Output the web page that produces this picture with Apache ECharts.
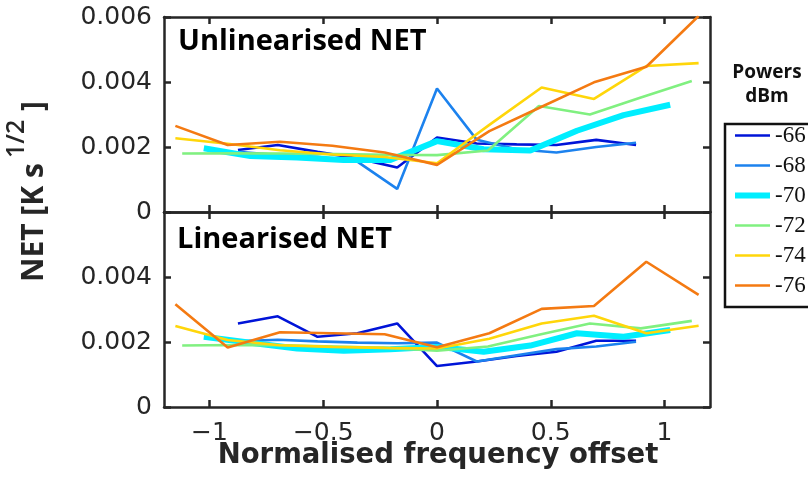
<!DOCTYPE html>
<html>
<head>
<meta charset="utf-8">
<script src="https://cdn.jsdelivr.net/npm/echarts@6/dist/echarts.min.js"></script>
<style>html,body{margin:0;padding:0;background:#fff}#c{width:808px;height:479px}</style>
</head>
<body>
<div id="c"></div>
<script>
// ---- data ----
const powers = ['-66', '-68', '-70', '-72', '-74', '-76'];
const colors = ['#0014d8', '#1c82ee', '#00eeff', '#80f080', '#ffd60a', '#f47a12'];
const widths = [2.6, 2.6, 6, 2.6, 2.6, 2.6];

const x66 = [-0.875, -0.7, -0.525, -0.35, -0.175, 0, 0.175, 0.35, 0.525, 0.7, 0.875];
const x68 = [-0.875, -0.7, -0.525, -0.35, -0.175, 0, 0.175, 0.35, 0.525, 0.7, 0.875];
const x70 = [-1.025, -0.82, -0.615, -0.41, -0.205, 0, 0.205, 0.41, 0.615, 0.82, 1.025];
const x72 = [-1.12, -0.896, -0.672, -0.448, -0.224, 0, 0.224, 0.448, 0.672, 0.896, 1.12];
const x74 = [-1.15, -0.92, -0.69, -0.46, -0.23, 0, 0.23, 0.46, 0.69, 0.92, 1.15];
const x76 = [-1.15, -0.92, -0.69, -0.46, -0.23, 0, 0.23, 0.46, 0.69, 0.92, 1.15];

// Unlinearised NET (top panel)
const un66 = [0.00191, 0.00206, 0.00185, 0.00165, 0.00137, 0.00229, 0.00211, 0.00208, 0.00206, 0.00222, 0.00206];
const un68 = [0.00185, 0.00175, 0.00170, 0.00155, 0.00071, 0.00380, 0.00222, 0.00193, 0.00183, 0.00200, 0.00213];
const un70 = [0.00196, 0.00172, 0.00168, 0.00160, 0.00160, 0.00218, 0.00193, 0.00189, 0.00250, 0.00298, 0.00330];
const un72 = [0.00180, 0.00181, 0.00180, 0.00178, 0.00176, 0.00175, 0.00189, 0.00326, 0.00300, 0.00352, 0.00403];
const un74 = [0.00227, 0.00210, 0.00190, 0.00177, 0.00169, 0.00150, 0.00268, 0.00383, 0.00348, 0.00449, 0.00458];
const un76 = [0.00265, 0.00206, 0.00216, 0.00204, 0.00183, 0.00145, 0.00249, 0.00324, 0.00399, 0.00447, 0.00603];

// Linearised NET (bottom panel)
const li66 = [0.00257, 0.00279, 0.00216, 0.00227, 0.00257, 0.00126, 0.00140, 0.00157, 0.00170, 0.00204, 0.00204];
const li68 = [0.00202, 0.00207, 0.00202, 0.00198, 0.00196, 0.00198, 0.00140, 0.00159, 0.00178, 0.00186, 0.00201];
const li70 = [0.00216, 0.00198, 0.00180, 0.00173, 0.00178, 0.00185, 0.00170, 0.00189, 0.00227, 0.00216, 0.00237];
const li72 = [0.00189, 0.00191, 0.00190, 0.00186, 0.00182, 0.00173, 0.00186, 0.00222, 0.00257, 0.00242, 0.00265];
const li74 = [0.00249, 0.00206, 0.00190, 0.00185, 0.00182, 0.00180, 0.00210, 0.00257, 0.00281, 0.00227, 0.00250];
const li76 = [0.00316, 0.00183, 0.00230, 0.00227, 0.00224, 0.00184, 0.00227, 0.00302, 0.00311, 0.00447, 0.00345];

const xTicks = [-1, -0.5, 0, 0.5, 1];
const yTicksTop = [0, 0.002, 0.004, 0.006];
const yTicksBottom = [0, 0.002, 0.004];

// ---- build ----
const xs = [x66, x68, x70, x72, x74, x76];
const tops = [un66, un68, un70, un72, un74, un76];
const bots = [li66, li68, li70, li72, li74, li76];
const zip = (a, b) => a.map((v, i) => [v, b[i]]);

const frame = '#262626';
const fontSans = '"Open Sans", "DejaVu Sans", sans-serif';
const fontTick = '"DejaVu Sans", sans-serif';

function xAx(grid, pos, labels) {
  return {
    type: 'value', gridIndex: grid, position: pos, min: -1.2, max: 1.2,
    axisLine: { show: true, onZero: false, lineStyle: { color: frame, width: 2.5 } },
    axisTick: { show: true, inside: true, length: 7, customValues: xTicks, lineStyle: { color: frame, width: 2.5 } },
    axisLabel: labels ? {
      show: true, customValues: xTicks, margin: 14, fontSize: 25, fontFamily: fontTick, color: frame,
      formatter: v => (v < 0 ? '\u2212' + Math.abs(v) : String(v))
    } : { show: false },
    splitLine: { show: false }
  };
}
function yAx(grid, pos, labelTicks) {
  return {
    type: 'value', gridIndex: grid, position: pos, min: 0, max: 0.006, interval: 0.002,
    axisLine: { show: true, onZero: false, lineStyle: { color: frame, width: 2.5 } },
    axisTick: { show: true, inside: true, length: 7, lineStyle: { color: frame, width: 2.5 } },
    axisLabel: labelTicks ? {
      show: true, customValues: labelTicks, margin: 12, fontSize: 25, fontFamily: fontTick, color: frame,
      formatter: v => String(+v.toFixed(3))
    } : { show: false },
    splitLine: { show: false }
  };
}

const series = [];
powers.forEach((p, i) => {
  [0, 1].forEach(g => {
    series.push({
      name: p, type: 'line', xAxisIndex: g * 2, yAxisIndex: g * 2,
      data: zip(xs[i], g === 0 ? tops[i] : bots[i]),
      symbol: 'none', showSymbol: false, animation: false,
      lineStyle: { color: colors[i], width: widths[i] },
      itemStyle: { color: colors[i] }
    });
  });
});

const rot = Math.PI / 2;
const chart = echarts.init(document.getElementById('c'), null, { renderer: 'canvas' });
chart.setOption({
  animation: false,
  grid: [
    { left: 164, top: 17, width: 546, height: 195 },
    { left: 164, top: 212, width: 546, height: 195 }
  ],
  xAxis: [xAx(0, 'bottom', false), xAx(0, 'top', false), xAx(1, 'bottom', true), xAx(1, 'top', false)],
  yAxis: [yAx(0, 'left', yTicksTop), yAx(0, 'right', null), yAx(1, 'left', yTicksBottom), yAx(1, 'right', null)],
  legend: {
    orient: 'vertical', left: 725, top: 124,
    itemWidth: 35, itemHeight: 24, itemGap: 7,
    padding: [0, 10, 8, 7],
    borderWidth: 0,
    itemStyle: { opacity: 0, borderWidth: 0 },
    textStyle: { fontFamily: '"Liberation Serif", serif', fontSize: 23, color: '#111' },
    data: powers.map((p, i) => ({ name: p, lineStyle: { width: widths[i], color: colors[i] } }))
  },
  graphic: [
    { type: 'rect', shape: { x: 725, y: 124, width: 120, height: 183 }, style: { fill: 'none', stroke: '#111', lineWidth: 2.5 }, z: 10 },
    { type: 'text', left: 178, top: 27, style: { text: 'Unlinearised NET', font: 'bold 29px ' + fontSans, fill: '#000' } },
    { type: 'text', left: 177, top: 225, style: { text: 'Linearised NET', font: 'bold 29px ' + fontSans, fill: '#000' } },
    { type: 'text', x: 767, y: 73, style: { text: 'Powers', font: 'bold 19px ' + fontSans, fill: '#111', align: 'center', verticalAlign: 'middle' } },
    { type: 'text', x: 767, y: 97, style: { text: 'dBm', font: 'bold 19px ' + fontSans, fill: '#111', align: 'center', verticalAlign: 'middle' } },
    { type: 'text', x: 438, y: 456, style: { text: 'Normalised frequency offset', font: 'bold 27.5px "DejaVu Sans", sans-serif', fill: frame, align: 'center', verticalAlign: 'middle' } },
    { type: 'text', x: 34, y: 282, rotation: rot, style: { text: 'NET [K s', font: 'bold 30px ' + fontSans, fill: frame, align: 'left', verticalAlign: 'middle' } },
    { type: 'text', x: 17, y: 158, rotation: rot, style: { text: '1/2', font: '600 25px ' + fontSans, fill: frame, align: 'left', verticalAlign: 'middle' } },
    { type: 'text', x: 34, y: 111, rotation: rot, style: { text: ']', font: 'bold 30px ' + fontSans, fill: frame, align: 'left', verticalAlign: 'middle' } }
  ],
  series: series
});
</script>
</body>
</html>
